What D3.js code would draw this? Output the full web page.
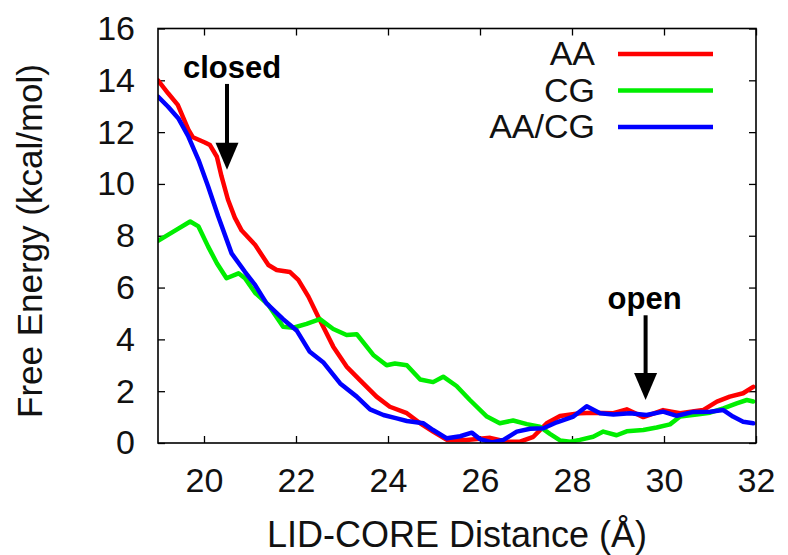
<!DOCTYPE html>
<html><head><meta charset="utf-8">
<script src="https://cdn.jsdelivr.net/npm/d3@7"></script>
<style>
body{margin:0;background:#fff;}
svg{display:block;font-family:"Liberation Sans",Arial,Helvetica,sans-serif;}
</style></head>
<body><svg id="c" width="788" height="555"></svg>
<script>
// ---- data ----
const seriesNames = ["AA", "CG", "AA/CG"];
const seriesColors = ["#ff0000", "#00ee00", "#0000ff"];
const aaX = [19.0,19.22,19.43,19.66,19.76,20.02,20.13,20.28,20.38,20.52,20.67,20.82,21.11,21.4,21.58,21.87,22.05,22.27,22.48,22.59,22.81,23.1,23.39,23.75,24.04,24.41,24.7,24.98,25.28,25.71,26.22,26.58,26.87,27.16,27.45,27.74,28.17,28.46,28.9,29.19,29.55,29.98,30.35,30.85,31.15,31.43,31.72,31.94];
const aaY = [14.0,13.5,13.05,12.1,11.8,11.6,11.5,11.05,10.3,9.4,8.7,8.2,7.65,6.87,6.68,6.6,6.3,5.65,4.88,4.5,3.72,2.95,2.43,1.79,1.4,1.15,0.76,0.44,0.12,0.12,0.2,0.05,0.05,0.24,0.76,1.04,1.15,1.17,1.15,1.3,1.0,1.27,1.15,1.27,1.6,1.79,1.92,2.17];
const cgX = [19.0,19.37,19.70,19.88,20.09,20.28,20.49,20.75,20.89,21.11,21.4,21.72,21.94,22.23,22.52,22.81,23.1,23.32,23.68,23.97,24.15,24.41,24.7,24.98,25.2,25.49,25.78,26.15,26.43,26.72,27.02,27.3,27.52,27.74,27.96,28.17,28.46,28.68,28.97,29.19,29.55,29.84,30.13,30.35,30.71,31.0,31.29,31.58,31.8,31.94];
const cgY = [7.8,8.2,8.55,8.36,7.58,6.94,6.36,6.55,6.36,5.8,5.33,4.49,4.45,4.6,4.78,4.4,4.17,4.2,3.4,3.0,3.07,3.0,2.45,2.35,2.56,2.2,1.66,1.02,0.76,0.87,0.73,0.63,0.35,0.1,0.05,0.12,0.24,0.44,0.3,0.45,0.5,0.6,0.72,1.02,1.1,1.17,1.34,1.53,1.66,1.6];
const mixX = [19.0,19.22,19.44,19.66,19.88,20.09,20.31,20.6,20.89,21.11,21.36,21.72,22.02,22.3,22.59,22.96,23.32,23.61,23.9,24.19,24.41,24.77,24.98,25.28,25.57,25.82,26.0,26.26,26.51,26.8,27.09,27.38,27.67,28.03,28.32,28.61,28.9,29.26,29.62,29.98,30.28,30.64,31.0,31.29,31.5,31.72,31.94];
const mixY = [13.37,12.98,12.54,11.83,10.93,9.9,8.74,7.32,6.61,6.1,5.39,4.78,4.33,3.52,3.12,2.3,1.79,1.3,1.08,0.95,0.85,0.76,0.5,0.18,0.26,0.4,0.15,0.02,0.12,0.44,0.55,0.57,0.8,1.02,1.42,1.15,1.1,1.15,1.08,1.21,1.05,1.2,1.21,1.27,1.02,0.82,0.76];
const xTicks = [20,22,24,26,28,30,32];
const yTicks = [0,2,4,6,8,10,12,14,16];
const xTitle = "LID-CORE Distance (Å)";
const yTitle = "Free Energy (kcal/mol)";
const annotations = [{text:"closed", x:20.5, yTop:13.86, yTip:10.55, dx:5}, {text:"open", x:29.6, yTop:4.93, yTip:1.66, dx:-1}];

// ---- layout ----
const L = 158, R = 756, T = 28.5, B = 443;
const svg = d3.select("#c");
const x = d3.scaleLinear().domain([19,32]).range([L,R]);
const y = d3.scaleLinear().domain([0,16]).range([B,T]);
const FS = 34;

svg.append("defs").append("clipPath").attr("id","clip")
  .append("rect").attr("x",L).attr("y",T).attr("width",R-L).attr("height",B-T);

// axes (ticks pointing inward, mirrored)
const styleAxis = g => {
  g.select(".domain").remove();
  g.selectAll(".tick line").attr("stroke","#000").attr("stroke-width",1.3);
};
svg.append("g").attr("transform",`translate(0,${B})`)
  .call(d3.axisBottom(x).tickValues(xTicks).tickSize(-7).tickPadding(25).tickFormat(d3.format("d")))
  .call(styleAxis)
  .selectAll("text").attr("font-size",FS).attr("fill","#111").attr("font-family","Liberation Sans, Arial, sans-serif");
svg.append("g").attr("transform",`translate(0,${T})`)
  .call(d3.axisTop(x).tickValues(xTicks).tickSize(-7).tickFormat(""))
  .call(styleAxis);
svg.append("g").attr("transform",`translate(${L},0)`)
  .call(d3.axisLeft(y).tickValues(yTicks).tickSize(-7).tickPadding(23).tickFormat(d3.format("d")))
  .call(styleAxis)
  .selectAll("text").attr("font-size",FS).attr("fill","#111").attr("font-family","Liberation Sans, Arial, sans-serif");
svg.append("g").attr("transform",`translate(${R},0)`)
  .call(d3.axisRight(y).tickValues(yTicks).tickSize(-7).tickFormat(""))
  .call(styleAxis);

// lines
const series = [
  {name:seriesNames[0], color:seriesColors[0], xs:aaX, ys:aaY},
  {name:seriesNames[1], color:seriesColors[1], xs:cgX, ys:cgY},
  {name:seriesNames[2], color:seriesColors[2], xs:mixX, ys:mixY}
];
const line = d3.line().x(d=>x(d[0])).y(d=>y(d[1]));
const plot = svg.append("g").attr("clip-path","url(#clip)");
series.forEach(s=>{
  plot.append("path").datum(s.xs.map((v,i)=>[v,s.ys[i]]))
    .attr("d",line).attr("fill","none").attr("stroke",s.color)
    .attr("stroke-width",4.5).attr("stroke-linejoin","round").attr("stroke-linecap","round");
});

// frame
svg.append("rect").attr("x",L).attr("y",T).attr("width",R-L).attr("height",B-T)
  .attr("fill","none").attr("stroke","#000").attr("stroke-width",1.6);

// legend
const lg = svg.append("g");
series.forEach((s,i)=>{
  const yy = 54 + i*36.5;
  lg.append("text").attr("x",595).attr("y",yy+11).attr("text-anchor","end")
    .attr("font-size",FS).attr("fill","#111").text(s.name);
  lg.append("line").attr("x1",618).attr("x2",713).attr("y1",yy).attr("y2",yy)
    .attr("stroke",s.color).attr("stroke-width",4.5);
});

// titles
svg.append("text").attr("x",457).attr("y",547).attr("text-anchor","middle")
  .attr("font-size",36).attr("fill","#111").text(xTitle);
svg.append("text").attr("transform","translate(42,241) rotate(-90)").attr("text-anchor","middle")
  .attr("font-size",35).attr("fill","#111").text(yTitle);

// annotations with arrows
annotations.forEach(a=>{
  const ax = x(a.x), top = y(a.yTop), tip = y(a.yTip);
  svg.append("text").attr("x",ax+a.dx).attr("y",top-6).attr("text-anchor","middle")
    .attr("font-size",31).attr("font-weight","bold").attr("fill","#000").text(a.text);
  svg.append("line").attr("x1",ax).attr("x2",ax).attr("y1",top).attr("y2",tip-20)
    .attr("stroke","#000").attr("stroke-width",4);
  svg.append("path").attr("d",`M${ax-11.5},${tip-27} L${ax+11.5},${tip-27} L${ax},${tip} Z`)
    .attr("fill","#000");
});
</script></body></html>
